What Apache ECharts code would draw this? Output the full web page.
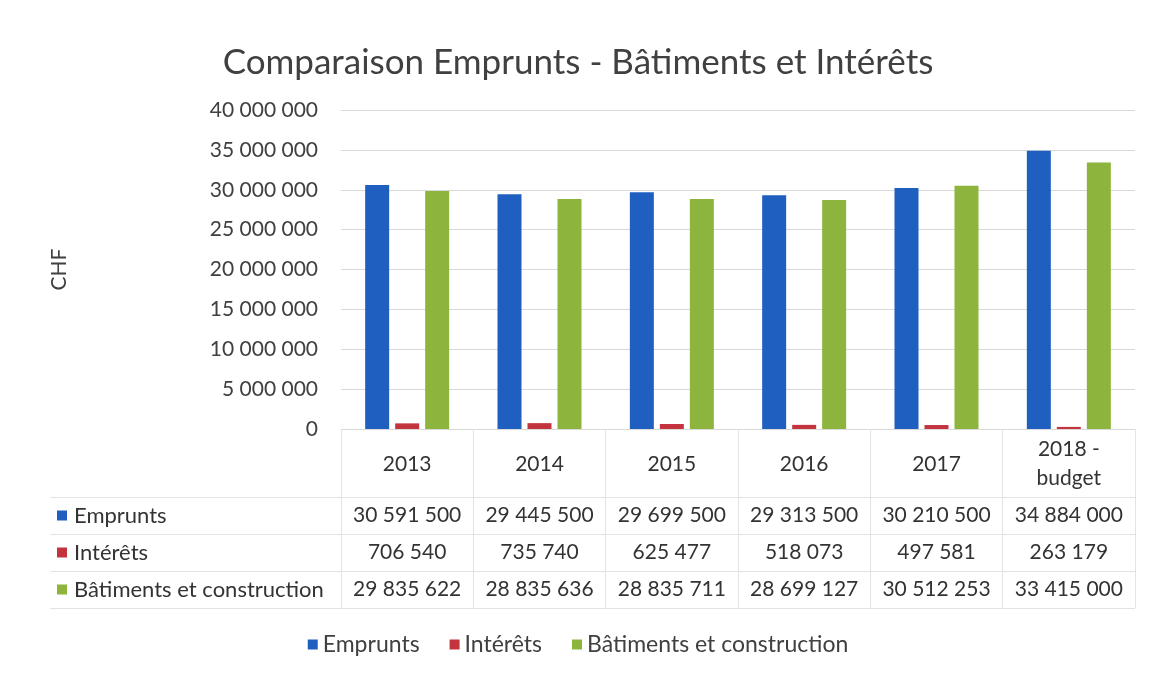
<!DOCTYPE html>
<html>
<head>
<meta charset="utf-8">
<script src="https://cdn.jsdelivr.net/npm/echarts@6/dist/echarts.min.js"></script>
<style>
  html, body { margin: 0; padding: 0; background: #fff; }
  #chart { width: 1156px; height: 681px; }
</style>
</head>
<body>
<div id="chart"></div>
<script>
var years = ['2013', '2014', '2015', '2016', '2017', '2018 -\nbudget'];
var seriesNames = ['Emprunts', 'Intérêts', 'Bâtiments et construction'];
var emprunts = [30591500, 29445500, 29699500, 29313500, 30210500, 34884000];
var interets = [706540, 735740, 625477, 518073, 497581, 263179];
var batiments = [29835622, 28835636, 28835711, 28699127, 30512253, 33415000];
var colors = ['#1f5fc0', '#c4343e', '#8db43c'];

var FONT = 'Lato, "Open Sans", sans-serif';
var GRID_L = 341, GRID_R = 21;

function fmt(v) {
    return String(v).replace(/\B(?=(\d{3})+(?!\d))/g, ' ');
}

var allSeries = [emprunts, interets, batiments];

// cellules du tableau (heatmap transparent, seulement les textes)
var tableCells = [];
allSeries.forEach(function (arr, r) {
    arr.forEach(function (v, c) {
        tableCells.push([c, r, v]);
    });
});

var rich = {};
seriesNames.forEach(function (n, i) {
    rich['k' + i] = { width: 10, height: 10, backgroundColor: colors[i] };
    rich['t' + i] = { fontFamily: FONT, fontSize: 22, color: '#333', padding: [0, 0, 0, 7] };
});

var chart = echarts.init(document.getElementById('chart'));
chart.setOption({
    backgroundColor: '#fff',
    animation: false,
    textStyle: { fontFamily: FONT },
    title: {
        text: 'Comparaison Emprunts - Bâtiments et Intérêts',
        left: 'center',
        top: 40,
        textStyle: { fontFamily: FONT, fontSize: 35, fontWeight: 'normal', color: '#404040' }
    },
    legend: {
        data: seriesNames,
        bottom: 20,
        left: 'center',
        icon: 'rect',
        itemWidth: 10,
        itemHeight: 10,
        itemGap: 30,
        textStyle: { fontFamily: FONT, fontSize: 23, color: '#404040' }
    },
    grid: [
        { left: GRID_L, right: GRID_R, top: 110, bottom: 252 },
        { left: GRID_L, right: GRID_R, top: 497, bottom: 73 }
    ],
    xAxis: [
        {
            type: 'category',
            gridIndex: 0,
            data: years,
            axisLine: { lineStyle: { color: '#d9d9d9' } },
            axisTick: { show: true, length: 68, interval: 0, lineStyle: { color: '#e3e3e3' } },
            axisLabel: {
                interval: 0, margin: 35, verticalAlign: 'middle',
                fontFamily: FONT, fontSize: 21, color: '#333', lineHeight: 29
            }
        },
        {
            type: 'category',
            gridIndex: 1,
            data: years,
            axisLine: { show: false },
            axisTick: { show: false },
            axisLabel: { show: false },
            splitLine: { show: true, interval: 0, lineStyle: { color: '#e3e3e3' } }
        }
    ],
    yAxis: [
        {
            type: 'value',
            gridIndex: 0,
            min: 0,
            max: 40000000,
            interval: 5000000,
            name: 'CHF',
            nameLocation: 'middle',
            nameGap: 271,
            nameTextStyle: { fontFamily: FONT, fontSize: 21, color: '#404040' },
            axisLabel: {
                margin: 23, fontFamily: FONT, fontSize: 21, color: '#404040',
                formatter: function (v) { return fmt(v); }
            },
            splitLine: { lineStyle: { color: '#d9d9d9' } }
        },
        {
            type: 'category',
            gridIndex: 1,
            inverse: true,
            data: seriesNames,
            axisLine: { show: true, lineStyle: { color: '#e3e3e3' } },
            axisTick: { show: true, length: 291, interval: 0, lineStyle: { color: '#e3e3e3' } },
            splitLine: { show: true, interval: 0, lineStyle: { color: '#e3e3e3' } },
            axisLabel: {
                align: 'left',
                margin: 284,
                rich: rich,
                formatter: function (v) {
                    var i = seriesNames.indexOf(v);
                    return '{k' + i + '|}{t' + i + '|' + v + '}';
                }
            }
        }
    ],
    series: [
        {
            name: seriesNames[0], type: 'bar', xAxisIndex: 0, yAxisIndex: 0,
            data: emprunts, barWidth: 24, barGap: '25%',
            itemStyle: { color: colors[0] }
        },
        {
            name: seriesNames[1], type: 'bar', xAxisIndex: 0, yAxisIndex: 0,
            data: interets, barWidth: 24, barGap: '25%',
            itemStyle: { color: colors[1] }
        },
        {
            name: seriesNames[2], type: 'bar', xAxisIndex: 0, yAxisIndex: 0,
            data: batiments, barWidth: 24, barGap: '25%',
            itemStyle: { color: colors[2] }
        },
        {
            type: 'heatmap',
            xAxisIndex: 1, yAxisIndex: 1,
            data: tableCells,
            itemStyle: { color: 'rgba(255,255,255,0)' },
            emphasis: { disabled: true },
            label: {
                show: true,
                fontFamily: FONT, fontSize: 21, color: '#333',
                formatter: function (p) { return fmt(p.value[2]); }
            }
        }
    ]
});
</script>
</body>
</html>
